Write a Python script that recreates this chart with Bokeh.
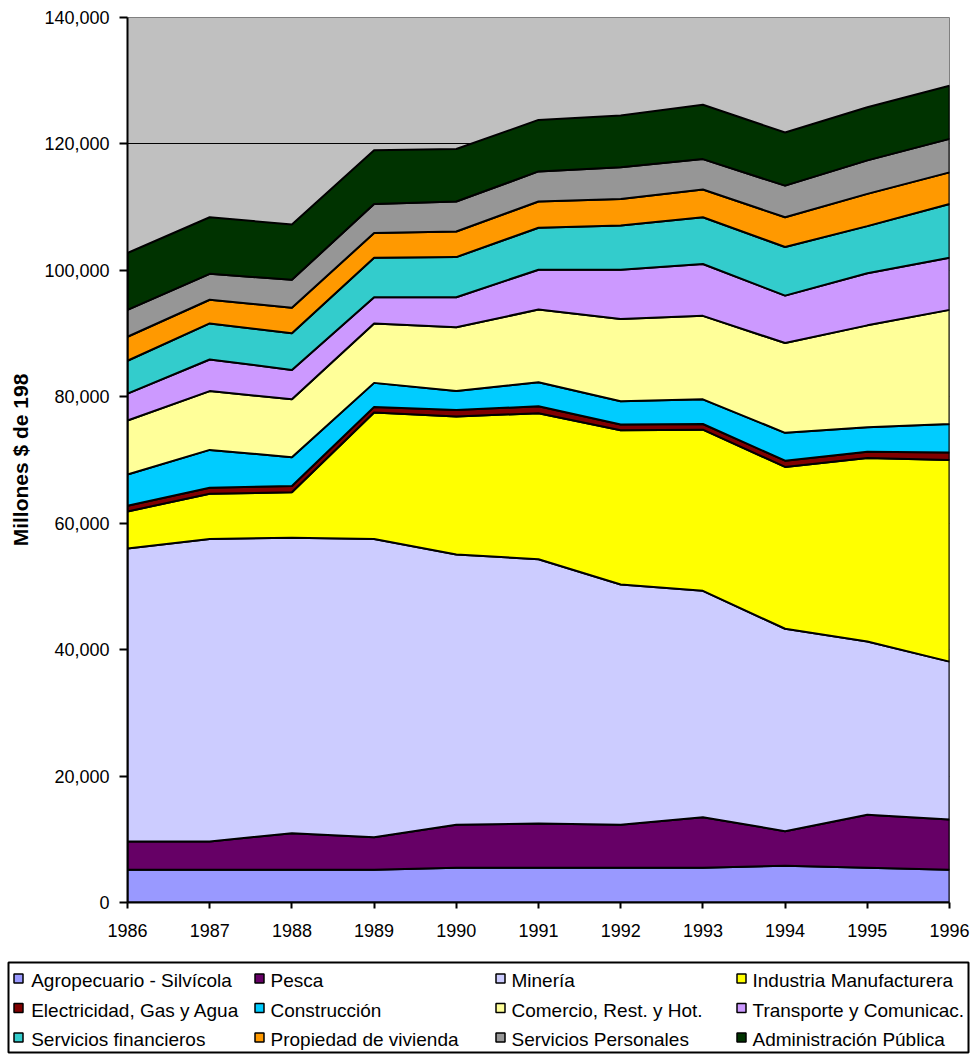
import numpy as np
from bokeh.plotting import figure
from bokeh.models import Range1d, FixedTicker, NumeralTickFormatter
from bokeh.core.properties import value
from bokeh.embed import file_html
from bokeh.resources import INLINE

years = [1986, 1987, 1988, 1989, 1990, 1991, 1992, 1993, 1994, 1995, 1996]

series_names = [
    "Agropecuario - Silvícola", "Pesca", "Minería", "Industria Manufacturera",
    "Electricidad, Gas y Agua", "Construcción", "Comercio, Rest. y Hot.", "Transporte y Comunicac.",
    "Servicios financieros", "Propiedad de vivienda", "Servicios Personales", "Administración Pública",
]
colors = [
    "#9999FF", "#660066", "#CCCCFF", "#FFFF00",
    "#800000", "#00CCFF", "#FFFF99", "#CC99FF",
    "#33CCCC", "#FF9900", "#969696", "#003300",
]

agro = [5200, 5200, 5200, 5200, 5500, 5500, 5500, 5500, 5800, 5500, 5200]
pesca = [4450, 4450, 5760, 5130, 6790, 7000, 6790, 8000, 5480, 8370, 7930]
mineria = [46350, 47850, 46740, 47170, 42770, 41800, 38010, 35800, 32020, 27430, 24970]
industria = [5860, 7150, 7200, 20000, 21840, 23100, 24400, 25500, 25600, 29000, 31900]
electricidad = [900, 950, 1000, 900, 1000, 1100, 900, 900, 1000, 1000, 1200]
construccion = [4940, 6000, 4550, 3800, 3000, 3800, 3700, 3900, 4400, 3900, 4500]
comercio = [8550, 9300, 9150, 9400, 10100, 11500, 13000, 13200, 14200, 16100, 18050]
transporte = [4250, 5000, 4650, 4150, 4750, 6300, 7800, 8200, 7500, 8250, 8250]
financieros = [5200, 5700, 5800, 6250, 6350, 6650, 7000, 7400, 7700, 7450, 8500]
vivienda = [3800, 3750, 4050, 3900, 4050, 4150, 4200, 4400, 4700, 5100, 5000]
personales = [4250, 4100, 4400, 4600, 4750, 4750, 5000, 4800, 5000, 5300, 5300]
administracion = [9000, 8950, 8750, 8500, 8300, 8150, 8200, 8600, 8400, 8400, 8400]

series = [agro, pesca, mineria, industria, electricidad, construccion,
          comercio, transporte, financieros, vivienda, personales, administracion]

y_ticks = [0, 20000, 40000, 60000, 80000, 100000, 120000, 140000]
y_label = "Millones $ de 198"

FONT = value("Liberation Sans")

p = figure(width=974, height=942,
           x_range=Range1d(1986, 1996), y_range=Range1d(0, 140000),
           output_backend="svg", toolbar_location=None,
           min_border_left=127, min_border_right=25,
           min_border_top=17, min_border_bottom=40)
p.background_fill_color = "#C0C0C0"
p.border_fill_color = "white"
p.outline_line_color = "#808080"
p.outline_line_width = 1

# grid
p.xgrid.visible = False
p.ygrid.ticker = FixedTicker(ticks=y_ticks[:-1])
p.ygrid.grid_line_color = "black"
p.ygrid.grid_line_width = 1

# stacked areas
xs_poly = []
ys_poly = []
bottom = np.zeros(len(years))
for s in series:
    top = bottom + np.array(s, dtype=float)
    xs_poly.append(list(years) + list(years[::-1]))
    ys_poly.append(list(top) + list(bottom[::-1]))
    bottom = top
p.patches(xs_poly, ys_poly, fill_color=colors, line_color="black", line_width=2)

# axes
p.xaxis.ticker = FixedTicker(ticks=years)
p.yaxis.ticker = FixedTicker(ticks=y_ticks)
p.yaxis.formatter = NumeralTickFormatter(format="0,0")
for ax in (p.xaxis, p.yaxis):
    ax.axis_line_color = "black"
    ax.axis_line_width = 2
    ax.major_tick_line_color = "black"
    ax.major_tick_line_width = 2
    ax.major_tick_in = 0
    ax.minor_tick_line_color = None
    ax.major_label_text_font = "Liberation Sans"
    ax.major_label_text_font_size = "18px"
    ax.major_label_text_color = "black"
p.xaxis.major_tick_out = 6
p.xaxis.major_label_standoff = 15
p.yaxis.major_tick_out = 8
p.yaxis.major_label_standoff = 10
p.yaxis.axis_label = y_label
p.yaxis.axis_label_text_font = "Liberation Sans"
p.yaxis.axis_label_text_font_size = "21px"
p.yaxis.axis_label_text_font_style = "bold"
p.yaxis.axis_label_text_color = "black"
p.yaxis.axis_label_standoff = 9

# legend panel (pixel coordinates, y downward)
LW, LH = 974, 115
lg = figure(width=LW, height=LH, x_range=Range1d(0, LW), y_range=Range1d(LH, 0),
            output_backend="svg", toolbar_location=None, min_border=0,
            x_axis_location=None, y_axis_location=None)
lg.xgrid.visible = False
lg.ygrid.visible = False
lg.outline_line_color = None
lg.background_fill_color = "white"
lg.border_fill_color = "white"

lg.quad(left=[8], right=[968], top=[20], bottom=[110],
        fill_color=None, line_color="black", line_width=2)

col_sq = [18, 259, 500, 741]
col_tx = [30.7, 270, 511, 752]
row_y = [38, 67.5, 97]
n = len(series_names)
sq_x = [col_sq[i % 4] for i in range(n)]
sq_y = [row_y[i // 4] - 2 for i in range(n)]
tx_x = [col_tx[i % 4] for i in range(n)]
tx_y = [row_y[i // 4] for i in range(n)]
lg.rect(x=sq_x, y=sq_y, width=9, height=9, fill_color=colors,
        line_color="black", line_width=1.5)
lg.text(x=tx_x, y=tx_y, text=series_names, text_font=FONT,
        text_font_size="19px", text_baseline="middle", text_align="left",
        text_color="black")

open("out.html", "w").write(file_html([p, lg], INLINE))
